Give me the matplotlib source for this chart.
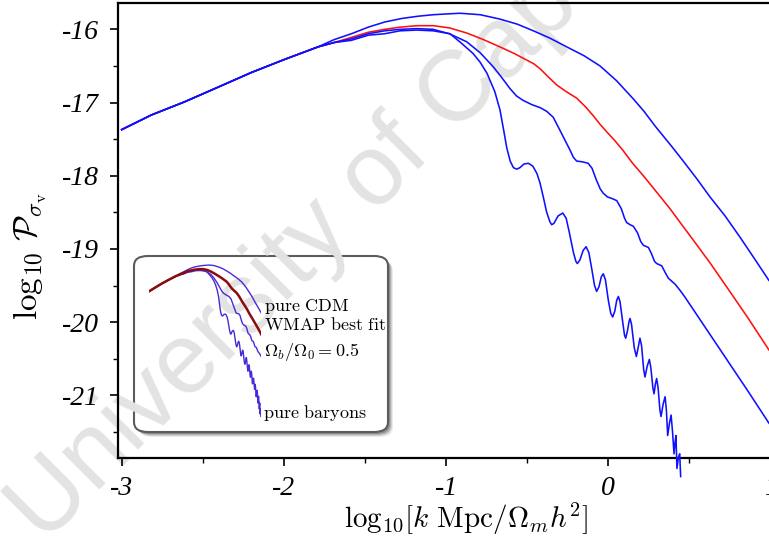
import matplotlib
matplotlib.use("Agg")
import matplotlib.pyplot as plt
from matplotlib.patches import FancyBboxPatch
from matplotlib.ticker import MultipleLocator

plt.rcParams["mathtext.fontset"] = "cm"
plt.rcParams["axes.unicode_minus"] = False

W, H = 769, 548

# ---------------- data: log10 k  vs  log10 P_sigma_v ----------------
# large-scale branch shared by all four models
x_rise = [-3.0, -2.817, -2.612, -2.406, -2.201, -1.995, -1.79]
y_rise = [-17.37, -17.17, -16.99, -16.79, -16.59, -16.41, -16.24]

# pure CDM
x_cdm = [-1.69, -1.584, -1.48, -1.379, -1.27, -1.17, -1.079, -1.0, -0.914, -0.79,
         -0.668, -0.56, -0.462, -0.36, -0.256, -0.15, -0.051, 0.05, 0.154, 0.22,
         0.288, 0.391, 0.462, 0.545, 0.627, 0.72, 0.812, 0.90, 0.99]
y_cdm = [-16.14, -16.06, -15.97, -15.90, -15.85, -15.82, -15.80, -15.79, -15.78, -15.80,
         -15.86, -15.93, -16.02, -16.12, -16.24, -16.36, -16.50, -16.70, -16.95, -17.12,
         -17.32, -17.60, -17.80, -18.04, -18.29, -18.55, -18.84, -19.13, -19.43]

# WMAP best fit
x_wmap = [-1.69, -1.584, -1.48, -1.379, -1.284, -1.18, -1.079, -0.98, -0.873, -0.77,
          -0.668, -0.58, -0.503, -0.46, -0.42, -0.37, -0.318, -0.26, -0.195, -0.14,
          -0.093, -0.05, -0.010, 0.04, 0.089, 0.15, 0.216, 0.30, 0.38, 0.45, 0.524,
          0.63, 0.73, 0.86, 0.99]
y_wmap = [-16.18, -16.11, -16.04, -16.00, -15.97, -15.95, -15.95, -15.98, -16.05, -16.14,
          -16.24, -16.33, -16.42, -16.47, -16.54, -16.65, -16.76, -16.85, -16.94, -17.06,
          -17.18, -17.30, -17.40, -17.52, -17.65, -17.83, -18.00, -18.23, -18.45, -18.66,
          -18.88, -19.20, -19.52, -19.94, -20.38]

# Omega_b / Omega_0 = 0.5
x_half = [-1.69, -1.584, -1.48, -1.379, -1.284, -1.18, -1.08, -0.98, -0.873, -0.79,
          -0.71, -0.66, -0.606, -0.566, -0.526, -0.47, -0.42, -0.38, -0.34, -0.298,
          -0.266, -0.236, -0.215, -0.195, -0.16, -0.124, -0.10, -0.075, -0.05, -0.031,
          -0.005, 0.021, 0.052, 0.08, 0.10, 0.113, 0.135, 0.154, 0.18, 0.20, 0.216,
          0.247, 0.265, 0.285, 0.298, 0.329, 0.35, 0.37, 0.38, 0.411, 0.44, 0.473,
          0.60, 0.73, 0.86, 0.99]
y_half = [-16.18, -16.13, -16.06, -16.02, -16.00, -15.99, -16.00, -16.06, -16.17, -16.32,
          -16.51, -16.65, -16.81, -16.91, -16.97, -17.03, -17.07, -17.12, -17.20, -17.38,
          -17.52, -17.65, -17.75, -17.80, -17.81, -17.83, -17.90, -18.05, -18.18, -18.24,
          -18.29, -18.31, -18.34, -18.45, -18.58, -18.64, -18.67, -18.69, -18.78, -18.90,
          -18.95, -18.98, -19.06, -19.17, -19.20, -19.23, -19.32, -19.40, -19.42, -19.48,
          -19.56, -19.66, -20.08, -20.51, -20.94, -21.38]

# pure baryons
x_bary = [-1.69, -1.584, -1.48, -1.379, -1.284, -1.18, -1.08, -0.976, -0.9, -0.834,
          -0.79, -0.748, -0.70, -0.668, -0.645, -0.626, -0.605, -0.585, -0.565, -0.545,
          -0.52, -0.493, -0.465, -0.44, -0.421, -0.40, -0.38, -0.36, -0.349, -0.335,
          -0.31, -0.281, -0.26, -0.24, -0.215, -0.20, -0.191, -0.175, -0.155, -0.137,
          -0.12, -0.10, -0.085, -0.072, -0.058, -0.043, -0.031, -0.018, 0.0, 0.015,
          0.027, 0.04, 0.052, 0.062, 0.072, 0.09, 0.10, 0.107, 0.118, 0.128,
          0.134, 0.143, 0.160, 0.173, 0.183, 0.195, 0.205, 0.218, 0.226, 0.24,
          0.253, 0.262, 0.275, 0.282, 0.290, 0.298, 0.307, 0.318, 0.325, 0.338,
          0.35, 0.358, 0.366, 0.377, 0.387, 0.396, 0.405, 0.411, 0.417, 0.423,
          0.432, 0.44, 0.446]
y_bary = [-16.18, -16.15, -16.08, -16.06, -16.02, -16.01, -16.02, -16.06, -16.20, -16.33,
          -16.45, -16.60, -16.85, -17.10, -17.38, -17.62, -17.80, -17.89, -17.91, -17.89,
          -17.84, -17.83, -17.87, -17.97, -18.10, -18.30, -18.50, -18.63, -18.67, -18.65,
          -18.55, -18.51, -18.58, -18.78, -19.05, -19.17, -19.20, -19.15, -19.02, -18.97,
          -19.05, -19.30, -19.50, -19.58, -19.52, -19.38, -19.34, -19.42, -19.70, -19.88,
          -19.93, -19.85, -19.70, -19.65, -19.72, -20.02, -20.18, -20.22, -20.12, -19.99,
          -19.95, -20.03, -20.35, -20.47, -20.36, -20.22, -20.32, -20.65, -20.75, -20.60,
          -20.51, -20.62, -20.90, -20.98, -20.85, -20.77, -20.90, -21.20, -21.29, -21.12,
          -21.02, -21.20, -21.55, -21.38, -21.27, -21.50, -21.80, -21.65, -21.55, -22.00,
          -21.85, -21.80, -22.11]

x_ticks = [-3, -2, -1, 0, 1]
x_ticklabels = ["-3", "-2", "-1", "0", "1"]
y_ticks = [-21, -20, -19, -18, -17, -16]
y_ticklabels = ["-21", "-20", "-19", "-18", "-17", "-16"]

inset_labels = [r"$\mathrm{pure\ CDM}$", r"$\mathrm{WMAP\ best\ fit}$",
                r"$\Omega_b/\Omega_0 = 0.5$", r"$\mathrm{pure\ baryons}$"]


def fx(px):
    return px / W


def fy(py):
    return 1 - py / H


fig = plt.figure(figsize=(W / 100, H / 100), dpi=100)

# main axes; it runs slightly past the right edge of the canvas
x_lo, x_hi = -3.026, 1.1
y_lo, y_hi = -21.85, -15.64
left_px, top_px, bot_px = 117.5, 3.0, 457.5
width_px = (x_hi - x_lo) * 162.2
ax = fig.add_axes([fx(left_px), fy(bot_px), width_px / W, (bot_px - top_px) / H])
ax.set_facecolor("none")
ax.set_xlim(x_lo, x_hi)
ax.set_ylim(y_lo, y_hi)

blue = "#1010ff"
red = "#ff1010"
ax.plot(x_rise + x_wmap, y_rise + y_wmap, color=red, lw=1.15, zorder=2)
ax.plot(x_rise + x_cdm, y_rise + y_cdm, color=blue, lw=1.15, zorder=3)
ax.plot(x_rise + x_half, y_rise + y_half, color=blue, lw=1.15, zorder=3)
ax.plot(x_rise + x_bary, y_rise + y_bary, color=blue, lw=1.15, zorder=3,
        clip_on=False)

for s in ax.spines.values():
    s.set_linewidth(1.6)
ax.spines["right"].set_visible(False)

tick_font = dict(fontfamily="Liberation Serif", fontstyle="italic", fontsize=20)
ax.set_xticks(x_ticks, x_ticklabels, **tick_font)
ax.set_yticks(y_ticks, y_ticklabels, **tick_font)
ax.xaxis.set_minor_locator(MultipleLocator(0.5))
ax.yaxis.set_minor_locator(MultipleLocator(0.5))
ax.tick_params(which="major", direction="out", length=6, width=1.2, pad=7)
ax.tick_params(which="minor", direction="out", length=3.5, width=1.0)

ax.set_xlabel(r"$\mathrm{log}_{10}[k\ \mathrm{Mpc}/\Omega_m h^2]$", fontsize=21)
ax.xaxis.set_label_coords(fx(466), fy(501), transform=fig.transFigure)
ax.xaxis.label.set_va("top")
ax.set_ylabel(r"$\mathrm{log}_{10}\ \mathcal{P}_{\sigma_{\rm v}}$", fontsize=24)
ax.yaxis.set_label_coords(fx(49), fy(256), transform=fig.transFigure)

# watermark
fig.text(fx(44), fy(545), "University of Cape Town", rotation=45,
         rotation_mode="anchor", ha="left", va="baseline", fontsize=72,
         family="Liberation Sans", color="#e3e3e3", zorder=-1)

# legend panel with drop shadow
bx0, by0, bx1, by1 = 134, 256, 388, 432
for off, a in [(5, 0.10), (4, 0.15), (3, 0.22), (2, 0.3)]:
    sh = FancyBboxPatch((fx(bx0 + off), fy(by1 + off)), fx(bx1 - bx0), (by1 - by0) / H,
                        boxstyle="round,pad=0,rounding_size=0.018",
                        transform=fig.transFigure, facecolor="#404040",
                        edgecolor="none", alpha=a, zorder=-3)
    fig.patches.append(sh)
box = FancyBboxPatch((fx(bx0), fy(by1)), fx(bx1 - bx0), (by1 - by0) / H,
                     boxstyle="round,pad=0,rounding_size=0.018",
                     transform=fig.transFigure, facecolor="white",
                     edgecolor="#5c5c5c", lw=1.5, zorder=-2)
fig.patches.append(box)

# miniature of the four curves inside the legend panel
ins = fig.add_axes([fx(149), fy(425), fx(261 - 149), (425 - 255) / H])
ins.set_xlim(-2.5, 0.45)
ins.set_ylim(-22.47, -15.36)
ins.axis("off")
ins.set_facecolor("none")
violet = "#4a2ad8"
ins.plot(x_rise + x_cdm, y_rise + y_cdm, color=violet, lw=1.0)
ins.plot(x_rise + x_half, y_rise + y_half, color=violet, lw=1.0)
ins.plot(x_rise + x_bary, y_rise + y_bary, color=violet, lw=1.0)
ins.plot(x_rise + x_wmap, y_rise + y_wmap, color="#8c0c0c", lw=1.8)

label_pos = [(264, 306), (264, 325), (264, 352), (263, 413)]
for (px, py), txt in zip(label_pos, inset_labels):
    fig.text(fx(px), fy(py), txt, ha="left", va="center", fontsize=13)

fig.savefig("out.png", dpi=100)
